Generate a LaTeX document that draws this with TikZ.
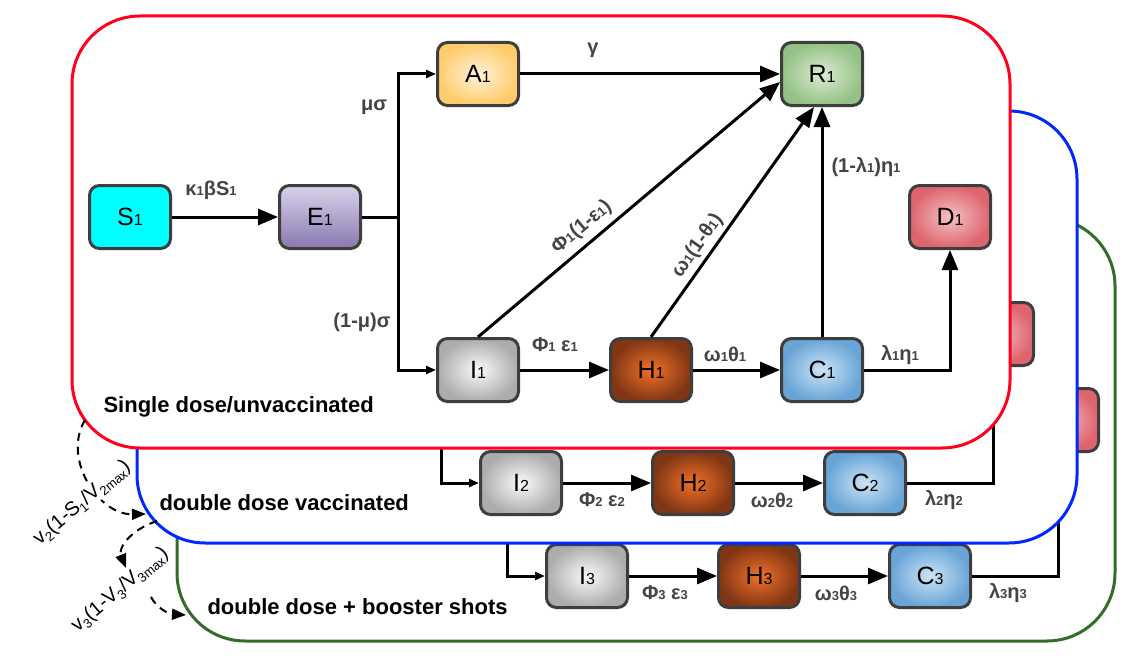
\documentclass[tikz,border=0pt]{standalone}
\usepackage{fontspec}
\setmainfont{Liberation Sans}
\usetikzlibrary{arrows.meta}
\definecolor{rategray}{RGB}{68,68,68}
\definecolor{boxedge}{RGB}{62,62,62}
\definecolor{susfill}{RGB}{0,255,255}
\definecolor{panelred}{RGB}{255,0,30}
\definecolor{panelblue}{RGB}{0,40,255}
\definecolor{panelgreen}{RGB}{50,110,40}
% small index digits
\newcommand{\nidx}[1]{{\fontsize{16}{16}\selectfont #1}}
\newcommand{\ridx}[1]{{\fontsize{13}{13}\selectfont #1}}
\newcommand{\lsub}[1]{\raisebox{-4pt}{\fontsize{13}{13}\selectfont #1}}
\tikzset{
    comp/.style={draw=boxedge, line width=3pt, rounded corners=10pt,
        minimum width=81pt, minimum height=63pt, inner sep=0pt,
        font=\fontsize{25}{25}\selectfont},
    sus/.style={comp, fill=susfill},
    expo/.style={comp, top color={rgb,255:red,218;green,210;blue,234}, bottom color={rgb,255:red,136;green,120;blue,176}},
    asym/.style={comp, inner color={rgb,255:red,255;green,242;blue,218}, outer color={rgb,255:red,255;green,204;blue,108}},
    infd/.style={comp, inner color={rgb,255:red,250;green,250;blue,250}, outer color={rgb,255:red,172;green,172;blue,172}},
    hosp/.style={comp, inner color={rgb,255:red,242;green,112;blue,40}, outer color={rgb,255:red,128;green,54;blue,20}},
    crit/.style={comp, inner color={rgb,255:red,204;green,228;blue,246}, outer color={rgb,255:red,104;green,164;blue,214}},
    recv/.style={comp, inner color={rgb,255:red,218;green,236;blue,208}, outer color={rgb,255:red,148;green,194;blue,134}},
    dead/.style={comp, inner color={rgb,255:red,244;green,194;blue,198}, outer color={rgb,255:red,222;green,100;blue,110}},
    rate/.style={font=\bfseries\fontsize{20}{20}\selectfont, text=rategray, inner sep=1pt},
    title/.style={font=\bfseries\fontsize{22}{22}\selectfont, anchor=west},
    flow/.style={line width=3pt, -{Triangle[length=20pt,width=16pt]}},
    split/.style={line width=3pt, -{Triangle[length=10pt,width=8pt]}},
    plain/.style={line width=3pt},
    panel/.style={line width=3pt, fill=white, rounded corners=68pt},
    vax/.style={line width=2pt, dash pattern=on 8pt off 6pt, -{Triangle[length=14pt,width=11pt]}},
    vlab/.style={font=\fontsize{20}{20}\selectfont, rotate=40, inner sep=0.5pt}
}

\begin{document}
\begin{tikzpicture}[x=1pt,y=-1pt,line cap=butt,line join=miter]
\useasboundingbox (0,0) rectangle (1133,661);

% --- booster panel (back) ---
\draw[panel, draw=panelgreen] (177,218) rectangle (1115,641);
\node[infd] (I3) at (587,576) {I\nidx{3}};
\node[hosp] (H3) at (759,576) {H\nidx{3}};
\node[crit] (C3) at (930,576) {C\nidx{3}};
\node[dead] (D3) at (1058,420) {};
\coordinate (fork3) at (507,530);
\draw[split] (fork3) |- (I3);
\draw[flow] (I3) -- (H3);
\draw[flow] (H3) -- (C3);
\draw[flow] (C3) -| (D3);
\node[rate] at (665,593) {Φ\ridx{3} ε\ridx{3}};
\node[rate] at (836,593) {ω\ridx{3}θ\ridx{3}};
\node[rate] at (1008,593) {λ\ridx{3}η\ridx{3}};
\node[title] at (204,607) {double dose + booster shots};

% --- double dose panel ---
\draw[panel, draw=panelblue] (137,111) rectangle (1077,543);
\node[infd] (I2) at (521,483) {I\nidx{2}};
\node[hosp] (H2) at (693,483) {H\nidx{2}};
\node[crit] (C2) at (865,483) {C\nidx{2}};
\node[dead] (D2) at (993,334) {};
\coordinate (fork2) at (441,440);
\draw[split] (fork2) |- (I2);
\draw[flow] (I2) -- (H2);
\draw[flow] (H2) -- (C2);
\draw[flow] (C2) -| (D2);
\node[rate] at (602,500) {Φ\ridx{2} ε\ridx{2}};
\node[rate] at (772,500) {ω\ridx{2}θ\ridx{2}};
\node[rate] at (944,500) {λ\ridx{2}η\ridx{2}};
\node[title] at (156,503) {double dose vaccinated};

% --- single dose panel (front) ---
\draw[panel, draw=panelred] (72,16) rectangle (1010,448);
\node[sus]  (S1) at (130,217) {S\nidx{1}};
\node[expo] (E1) at (320,217) {E\nidx{1}};
\node[asym] (A1) at (478,74)  {A\nidx{1}};
\node[recv] (R1) at (822,74)  {R\nidx{1}};
\node[infd] (I1) at (478,370) {I\nidx{1}};
\node[hosp] (H1) at (651,370) {H\nidx{1}};
\node[crit] (C1) at (822,370) {C\nidx{1}};
\node[dead] (D1) at (950,217) {D\nidx{1}};
\coordinate (fork1) at (398,217);

\draw[flow] (S1) -- (E1);
\draw[plain] (E1) -- (fork1);
\draw[split] (fork1) |- (A1);
\draw[split] (fork1) |- (I1);
\draw[flow] (A1) -- (R1);
\draw[flow] (I1.north) -- ([yshift=-8pt]R1.west)
    node[rate, sloped, above=5pt, pos=0.38] {Φ\ridx{1}(1-ε\ridx{1})};
\draw[flow] (H1.north) -- ([xshift=-8pt]R1.south)
    node[rate, sloped, above=3pt, pos=0.36] {ω\ridx{1}(1-θ\ridx{1})};
\draw[flow] (C1) -- (R1);
\draw[flow] (I1) -- (H1);
\draw[flow] (H1) -- (C1);
\draw[flow] (C1) -| (D1);

\node[rate] at (211,190) {κ\ridx{1}βS\ridx{1}};
\node[rate] at (374,107) {μσ};
\node[rate] at (362,322) {(1-μ)σ};
\node[rate] at (593,50)  {γ};
\node[rate] at (555,345) {Φ\ridx{1} ε\ridx{1}};
\node[rate] at (725,354) {ω\ridx{1}θ\ridx{1}};
\node[rate] at (866,167) {(1-λ\ridx{1})η\ridx{1}};
\node[rate] at (900,355) {λ\ridx{1}η\ridx{1}};
\node[title] at (100,407) {Single dose/unvaccinated};

% --- vaccination transfers ---
\coordinate (v2from) at (85,420);
\coordinate (v2to) at (146,514);
\coordinate (v3from) at (157,521);
\coordinate (v3mid) at (126,568);
\coordinate (v3back) at (151,597);
\coordinate (v3to) at (186,615);
\draw[vax] (v2from) .. controls (62,458) and (98,515) .. (v2to);
\draw[vax] (v3from) .. controls (130,530) and (118,548) .. (v3mid);
\draw[vax] (v3back) .. controls (156,607) and (168,614) .. (v3to);
\node[vlab, fill=white] at (82,503) {v\lsub{2}(1-S\lsub{1}/V\lsub{2max})};
\node[vlab] at (120,590) {v\lsub{3}(1-V\lsub{3}/V\lsub{3max})};

\end{tikzpicture}
\end{document}
